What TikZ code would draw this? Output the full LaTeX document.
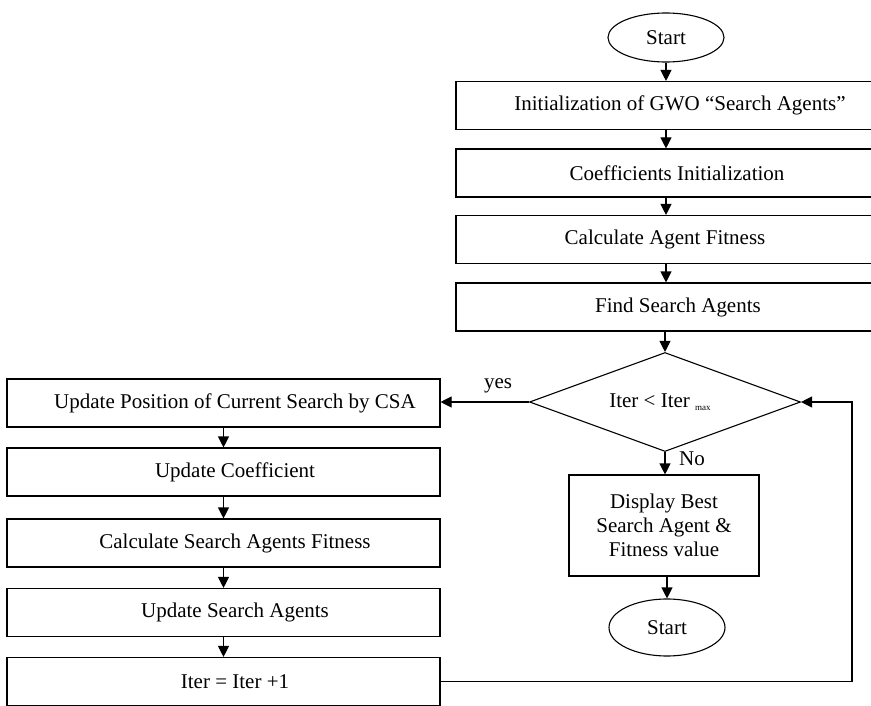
\documentclass[tikz,border=0pt]{standalone}
\usepackage{fontspec}
\setmainfont{Liberation Serif}
\usetikzlibrary{shapes.geometric,arrows.meta}
\begin{document}
\begin{tikzpicture}[x=1pt,y=-1pt,
  every node/.style={font=\fontsize{21}{24}\selectfont},
  base/.style={draw,line width=1.1pt,inner sep=0pt},
  term/.style={base,ellipse,minimum width=116pt},
  rbox/.style={base,rectangle,minimum height=48pt},
  lbox/.style={base,rectangle,minimum width=433pt,minimum height=48pt},
  txt/.style={inner sep=0pt},
  arr/.style={line width=1.1pt,-{Triangle[length=11pt,width=11pt]}}]
\useasboundingbox (0,0) rectangle (871,706);

% main column (right)
\node[term,minimum height=49pt] (st) at (666,37.5) {Start};
\node[rbox,minimum width=448pt] (b1) at (680,105.5) {Initialization of GWO “Search Agents”};
\node[rbox,minimum width=442pt] (b2) at (677,173) {Coefficients Initialization};
\node[rbox,minimum width=418pt] (b3) at (665,239.5) {Calculate Agent Fitness};
\node[rbox,minimum width=444pt] (b4) at (678,307) {Find Search Agents};
\node[base,diamond,minimum width=271pt,minimum height=99pt] (dia) at (665,402) {};
\node[txt] (cond) at (660,402) {Iter < Iter \raisebox{-3pt}{\fontsize{9}{9}\selectfont max}};
\node[rbox,minimum width=190pt,minimum height=101pt,align=center] (disp) at (664,525.5)
  {Display Best\\Search Agent \&\\Fitness value};
\node[term,minimum height=57pt] (en) at (667,627.5) {Start};

% update loop (left)
\node[lbox] (l1) at (223.5,403) {};
\node[txt] (t1) at ([xshift=11.5pt]l1.center) {Update Position of Current Search by CSA};
\node[lbox] (l2) at (223.5,472) {};
\node[txt] (t2) at ([xshift=11.5pt]l2.center) {Update Coefficient};
\node[lbox] (l3) at (223.5,543) {};
\node[txt] (t3) at ([xshift=11.5pt]l3.center) {Calculate Search Agents Fitness};
\node[lbox] (l4) at (223.5,612.5) {};
\node[txt] (t4) at ([xshift=11.5pt]l4.center) {Update Search Agents};
\node[lbox] (l5) at (223.5,681.5) {};
\node[txt] (t5) at ([xshift=11.5pt]l5.center) {Iter = Iter +1};

\coordinate (fb) at (852,402);

% connectors
\draw[arr] (st) -- (st |- b1.north);
\draw[arr] (b1.south -| st) -- (b2.north -| st);
\draw[arr] (b2.south -| st) -- (b3.north -| st);
\draw[arr] (b3.south -| st) -- (b4.north -| st);
\draw[arr] (b4.south -| dia) -- (dia.north);
\draw[arr] (dia.south) -- (disp.north -| dia);
\draw[arr] (disp.south -| en) -- (en.north);
\draw[arr] (dia.west) -- (l1.east |- dia.west);
\draw[arr] (l1.south) -- (l2.north);
\draw[arr] (l2.south) -- (l3.north);
\draw[arr] (l3.south) -- (l4.north);
\draw[arr] (l4.south) -- (l5.north);
\draw[arr] (l5.east) -| (fb) -- (dia.east);

\node[txt] (yes) at (498,386) {yes};
\node[txt] (no) at (692,459) {No};
\end{tikzpicture}
\end{document}
